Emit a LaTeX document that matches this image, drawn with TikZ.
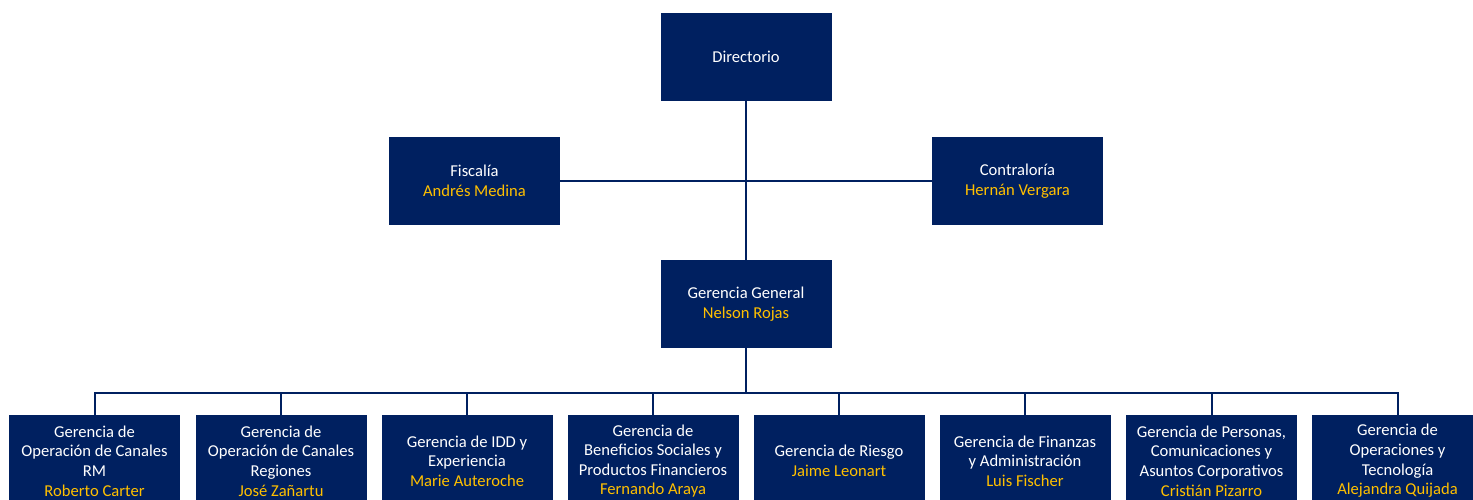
\documentclass[tikz,border=0pt]{standalone}
\usepackage{fontspec}
\setmainfont{Carlito}
\definecolor{navy}{HTML}{002060}
\definecolor{gold}{HTML}{FFC000}
\newcommand{\who}[1]{\textcolor{gold}{#1}}
\begin{document}
\begin{tikzpicture}[x=1pt,y=-1pt,
  box/.style={fill=navy, draw=none, minimum width=171pt, minimum height=88pt,
    align=center, text=white, inner sep=0pt, font=\fontsize{16.6}{19.6}\selectfont},
  lowbox/.style={box, minimum height=92pt},
  link/.style={draw=navy, line width=2pt}]
\useasboundingbox (0,0) rectangle (1473,500);
\clip (0,0) rectangle (1473,500);
\node[box] (dir) at (746,57) {Directorio};
\node[box] (fis) at (474.5,181) {Fiscalía\\\who{Andrés Medina}};
\node[box] (con) at (1017.5,181) {Contraloría\\\who{Hernán Vergara}};
\node[box] (gg) at (746,304) {Gerencia General\\\who{Nelson Rojas}};
\node[lowbox] (b1) at (94.5,461) {Gerencia de\\Operación de Canales\\RM\\\who{Roberto Carter}};
\node[lowbox] (b2) at (281,461) {Gerencia de\\Operación de Canales\\Regiones\\\who{José Zañartu}};
\node[lowbox] (b3) at (467,461) {Gerencia de IDD y\\Experiencia\\\who{Marie Auteroche}};
\node[lowbox] (b4) at (653,461) {Gerencia de\\Beneficios Sociales y\\Productos Financieros\\\who{Fernando Araya}};
\node[lowbox] (b5) at (839,461) {Gerencia de Riesgo\\\who{Jaime Leonart}};
\node[lowbox] (b6) at (1025,461) {Gerencia de Finanzas\\y Administración\\\who{Luis Fischer}};
\node[lowbox] (b7) at (1211.5,461) {Gerencia de Personas,\\Comunicaciones y\\Asuntos Corporativos\\\who{Cristián Pizarro}};
\node[lowbox] (b8) at (1397.5,461) {Gerencia de\\Operaciones y\\Tecnología\\\who{Alejandra Quijada}};
\coordinate (bus) at (746,393);
\draw[link] (dir.south) -- (gg.north);
\draw[link] (fis.east) -- (con.west);
\draw[link] (gg.south) -- (bus);
\draw[link] (b1.north) -- (b1.north |- bus) -- (b8.north |- bus) -- (b8.north);
\foreach \b in {b2,b3,b4,b5,b6,b7}
  \draw[link] (\b.north) -- (\b.north |- bus);
\end{tikzpicture}
\end{document}
